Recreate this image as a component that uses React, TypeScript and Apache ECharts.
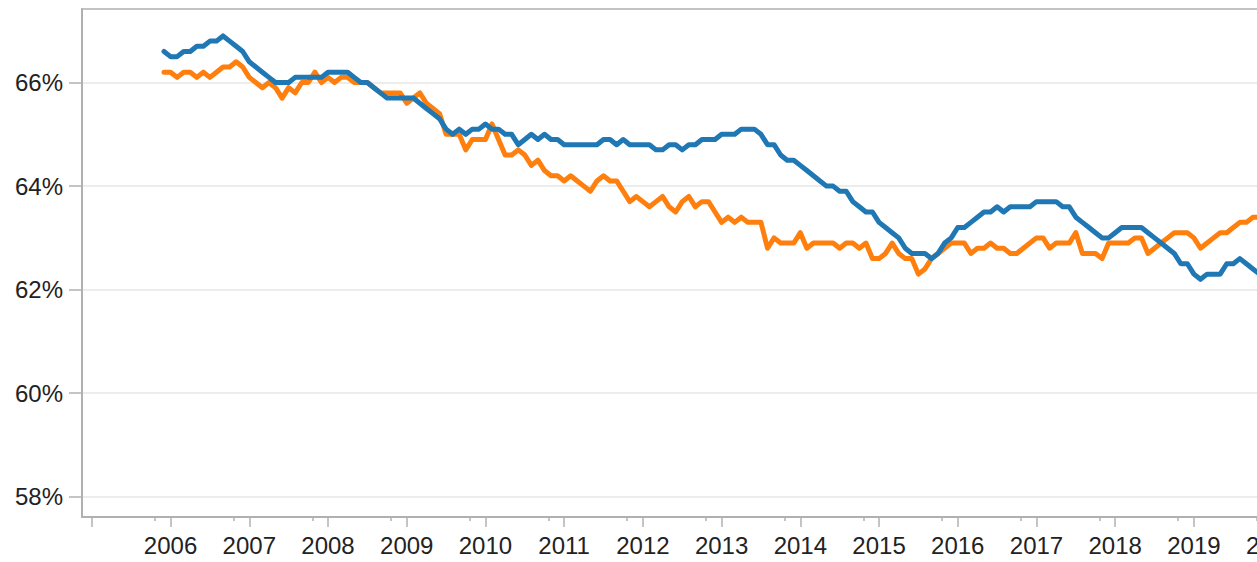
import React, { useEffect, useRef } from "react";
import * as echarts from "echarts";

// Monthly series starting December 2005
const startYear = 2005;
const startMonth = 12;

const blueValues = [
  66.6, 66.5, 66.5, 66.6, 66.6, 66.7, 66.7, 66.8, 66.8, 66.9, 66.8, 66.7,
  66.6, 66.4, 66.3, 66.2, 66.1, 66.0, 66.0, 66.0, 66.1, 66.1, 66.1, 66.1,
  66.1, 66.2, 66.2, 66.2, 66.2, 66.1, 66.0, 66.0, 65.9, 65.8, 65.7, 65.7,
  65.7, 65.7, 65.7, 65.6, 65.5, 65.4, 65.3, 65.1, 65.0, 65.1, 65.0, 65.1,
  65.1, 65.2, 65.1, 65.1, 65.0, 65.0, 64.8, 64.9, 65.0, 64.9, 65.0, 64.9,
  64.9, 64.8, 64.8, 64.8, 64.8, 64.8, 64.8, 64.9, 64.9, 64.8, 64.9, 64.8,
  64.8, 64.8, 64.8, 64.7, 64.7, 64.8, 64.8, 64.7, 64.8, 64.8, 64.9, 64.9,
  64.9, 65.0, 65.0, 65.0, 65.1, 65.1, 65.1, 65.0, 64.8, 64.8, 64.6, 64.5,
  64.5, 64.4, 64.3, 64.2, 64.1, 64.0, 64.0, 63.9, 63.9, 63.7, 63.6, 63.5,
  63.5, 63.3, 63.2, 63.1, 63.0, 62.8, 62.7, 62.7, 62.7, 62.6, 62.7, 62.9,
  63.0, 63.2, 63.2, 63.3, 63.4, 63.5, 63.5, 63.6, 63.5, 63.6, 63.6, 63.6,
  63.6, 63.7, 63.7, 63.7, 63.7, 63.6, 63.6, 63.4, 63.3, 63.2, 63.1, 63.0,
  63.0, 63.1, 63.2, 63.2, 63.2, 63.2, 63.1, 63.0, 62.9, 62.8, 62.7, 62.5,
  62.5, 62.3, 62.2, 62.3, 62.3, 62.3, 62.5, 62.5, 62.6, 62.5, 62.4, 62.3,
];

const orangeValues = [
  66.2, 66.2, 66.1, 66.2, 66.2, 66.1, 66.2, 66.1, 66.2, 66.3, 66.3, 66.4,
  66.3, 66.1, 66.0, 65.9, 66.0, 65.9, 65.7, 65.9, 65.8, 66.0, 66.0, 66.2,
  66.0, 66.1, 66.0, 66.1, 66.1, 66.0, 66.0, 66.0, 65.9, 65.8, 65.8, 65.8,
  65.8, 65.6, 65.7, 65.8, 65.6, 65.5, 65.4, 65.0, 65.0, 65.0, 64.7, 64.9,
  64.9, 64.9, 65.2, 64.9, 64.6, 64.6, 64.7, 64.6, 64.4, 64.5, 64.3, 64.2,
  64.2, 64.1, 64.2, 64.1, 64.0, 63.9, 64.1, 64.2, 64.1, 64.1, 63.9, 63.7,
  63.8, 63.7, 63.6, 63.7, 63.8, 63.6, 63.5, 63.7, 63.8, 63.6, 63.7, 63.7,
  63.5, 63.3, 63.4, 63.3, 63.4, 63.3, 63.3, 63.3, 62.8, 63.0, 62.9, 62.9,
  62.9, 63.1, 62.8, 62.9, 62.9, 62.9, 62.9, 62.8, 62.9, 62.9, 62.8, 62.9,
  62.6, 62.6, 62.7, 62.9, 62.7, 62.6, 62.6, 62.3, 62.4, 62.6, 62.7, 62.8,
  62.9, 62.9, 62.9, 62.7, 62.8, 62.8, 62.9, 62.8, 62.8, 62.7, 62.7, 62.8,
  62.9, 63.0, 63.0, 62.8, 62.9, 62.9, 62.9, 63.1, 62.7, 62.7, 62.7, 62.6,
  62.9, 62.9, 62.9, 62.9, 63.0, 63.0, 62.7, 62.8, 62.9, 63.0, 63.1, 63.1,
  63.1, 63.0, 62.8, 62.9, 63.0, 63.1, 63.1, 63.2, 63.3, 63.3, 63.4, 63.4,
];

const yearTicks = [2005, 2006, 2007, 2008, 2009, 2010, 2011, 2012, 2013, 2014, 2015, 2016, 2017, 2018, 2019, 2020];
const yearLabels = [2006, 2007, 2008, 2009, 2010, 2011, 2012, 2013, 2014, 2015, 2016, 2017, 2018, 2019, 2020];
const minorTicks = [2005.8, 2006.8, 2007.8, 2008.8, 2009.8, 2010.8, 2011.8, 2012.8, 2013.8, 2014.8, 2015.8, 2016.8, 2017.8, 2018.8, 2019.8];
const percentTicks = [58, 60, 62, 64, 66];

const toPoints = (values: number[]) =>
  values.map((v, i) => [startYear + (startMonth - 1 + i) / 12, v]);

const AXIS_GRAY = "#b0b0b0";
const FONT = "'Liberation Sans', Arial, sans-serif";

export default function App() {
  const ref = useRef<HTMLDivElement>(null);

  useEffect(() => {
    document.body.style.margin = "0";
    document.body.style.overflow = "hidden";
    if (!ref.current) return;
    const chart = echarts.init(ref.current, null, { renderer: "svg" });
    const xMin = 2004.875;
    const xMax = 2020.5;
    chart.setOption({
      animation: false,
      grid: {
        left: 82,
        top: 9,
        bottom: 45,
        right: 8,
        show: true,
        borderColor: AXIS_GRAY,
        borderWidth: 1.5,
        backgroundColor: "transparent",
      },
      xAxis: [
        {
          type: "value",
          min: xMin,
          max: xMax,
          axisLine: { show: true, lineStyle: { color: AXIS_GRAY, width: 2 } },
          axisTick: {
            show: true,
            customValues: yearTicks,
            length: 10,
            lineStyle: { color: AXIS_GRAY, width: 1.5 },
          },
          axisLabel: {
            customValues: yearLabels,
            formatter: (v: number) => String(v),
            color: "#222",
            fontSize: 24,
            fontFamily: FONT,
            margin: 16,
          },
          splitLine: { show: false },
        },
        {
          type: "value",
          min: xMin,
          max: xMax,
          position: "bottom",
          axisLine: { show: false },
          axisTick: {
            show: true,
            customValues: minorTicks,
            length: 4,
            lineStyle: { color: AXIS_GRAY, width: 1.5 },
          },
          axisLabel: { show: false },
          splitLine: { show: false },
        },
      ],
      yAxis: {
        type: "value",
        min: 57.61,
        max: 67.42,
        axisLine: { show: true, lineStyle: { color: AXIS_GRAY, width: 2 } },
        axisTick: {
          show: true,
          customValues: percentTicks,
          length: 13,
          lineStyle: { color: AXIS_GRAY, width: 1.5 },
        },
        axisLabel: {
          customValues: percentTicks,
          formatter: (v: number) => `${Math.round(v)}%`,
          color: "#222",
          fontSize: 24,
          fontFamily: FONT,
          margin: 19,
        },
        splitLine: { show: true, lineStyle: { color: "#ececec", width: 2 } },
      },
      series: [
        {
          type: "line",
          name: "orange",
          data: toPoints(orangeValues),
          showSymbol: false,
          symbol: "none",
          clip: true,
          lineStyle: { color: "#ff7f0e", width: 5, join: "round", cap: "round" },
          itemStyle: { color: "#ff7f0e" },
          z: 2,
        },
        {
          type: "line",
          name: "blue",
          data: toPoints(blueValues),
          showSymbol: false,
          symbol: "none",
          clip: true,
          lineStyle: { color: "#1f77b4", width: 5, join: "round", cap: "round" },
          itemStyle: { color: "#1f77b4" },
          z: 3,
        },
      ],
    });
    return () => chart.dispose();
  }, []);

  return (
    <div style={{ width: 1257, height: 562, overflow: "hidden" }}>
      <div ref={ref} style={{ width: 1320, height: 562 }} />
    </div>
  );
}
